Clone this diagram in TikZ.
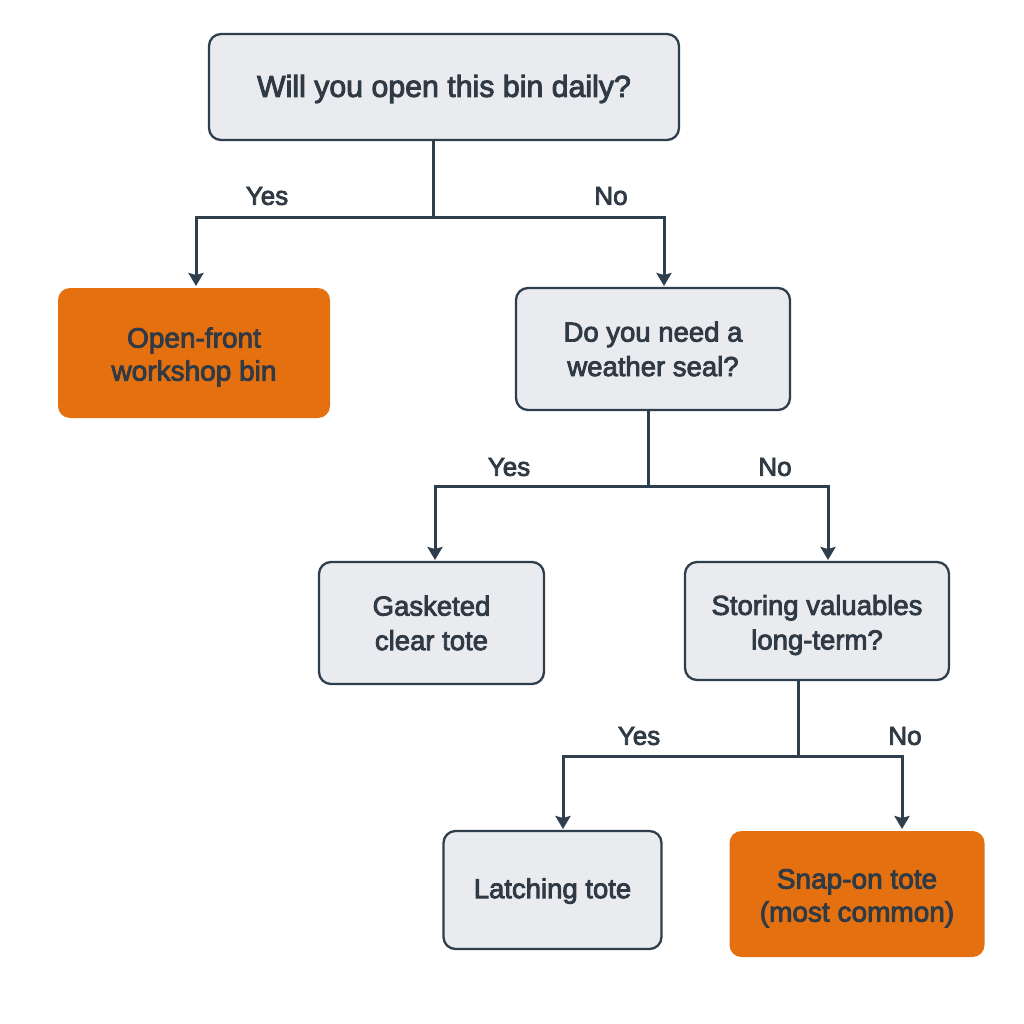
\documentclass[tikz,border=0pt]{standalone}
\usepackage{fontspec}
\setmainfont[RawFeature={embolden=3}]{Liberation Sans}
\usetikzlibrary{arrows.meta}
\definecolor{ln}{HTML}{2F3E4C}
\definecolor{boxf}{HTML}{E9EBEF}
\definecolor{org}{HTML}{E57010}
\definecolor{txt}{HTML}{2F3A45}
\newcommand{\hh}[1]{\rule{0pt}{#1pt}}
\tikzset{
 px/.style={x=1pt,y=-1pt},
 q/.style={draw=ln,line width=2.3pt,fill=boxf,rounded corners=12pt,text=txt,align=center,font=\fontsize{27.5}{34.5}\selectfont,inner sep=0pt},
 o/.style={fill=org,rounded corners=12pt,text=txt,align=center,font=\fontsize{28}{33}\selectfont,inner sep=0pt},
 big/.style={font=\fontsize{30.3}{36}\selectfont},
 conn/.style={draw=ln,line width=3pt},
 arr/.style={conn,-{Stealth[length=13pt,width=15pt,inset=2pt]}},
 lab/.style={text=txt,font=\fontsize{26}{30}\selectfont,inner sep=0pt},
}
\begin{document}
\begin{tikzpicture}[px]
\useasboundingbox (0,0) rectangle (1024,1024);
\fill[white] (0,0) rectangle (1024,1024);
\node[q,big,minimum width=470pt,minimum height=106pt] (a) at (444,87) {\hh{26}Will you open this bin daily?};
\node[o,minimum width=272pt,minimum height=130pt] (b) at (194,353) {\hh{28}Open-front\\workshop bin};
\node[q,minimum width=274pt,minimum height=122pt] (c) at (653,349) {Do you need a\\weather seal?};
\node[q,minimum width=225pt,minimum height=122pt] (d) at (431.5,623) {Gasketed\\clear tote};
\node[q,minimum width=264pt,minimum height=118pt] (e) at (817,621) {\hh{28}Storing valuables\\long-term?};
\node[q,minimum width=218pt,minimum height=118pt] (f) at (552.5,890) {\hh{22}Latching tote};
\node[o,minimum width=255pt,minimum height=126pt] (g) at (857,894) {\hh{28}Snap-on tote\\(most common)};
\coordinate (j1) at (433,218);
\coordinate (j2) at (648,486);
\coordinate (j3) at (798,756);
\draw[conn] (a.south -| j1) -- (j1);
\draw[conn] (c.south -| j2) -- (j2);
\draw[conn] (e.south -| j3) -- (j3);
\draw[arr] (j1) -| (196,286);
\draw[arr] (j1) -| (664,286);
\draw[arr] (j2) -| (435,560);
\draw[arr] (j2) -| (828,560);
\draw[arr] (j3) -| (563,829);
\draw[arr] (j3) -| (902,829);
\node[lab] (y1) at (267,196) {Yes};
\node[lab] (n1) at (611,196) {No};
\node[lab] (y2) at (509,467) {Yes};
\node[lab] (n2) at (775,467) {No};
\node[lab] (y3) at (639,736) {Yes};
\node[lab] (n3) at (905,736) {No};
\end{tikzpicture}
\end{document}
